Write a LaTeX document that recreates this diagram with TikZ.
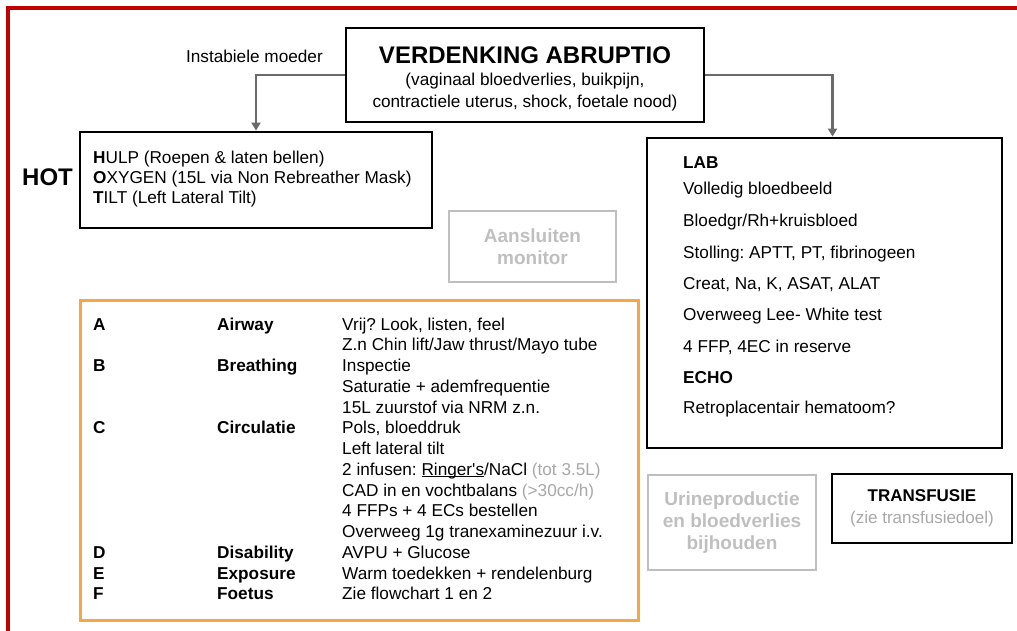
\documentclass[tikz,border=0pt]{standalone}
\usepackage{fontspec}
\setmainfont{Liberation Sans}
\usetikzlibrary{arrows.meta}
\frenchspacing

\definecolor{framered}{HTML}{C00000}
\definecolor{linkgray}{HTML}{6A6A6A}
\definecolor{palegray}{HTML}{BFBFBF}
\definecolor{notegray}{HTML}{A8A8A8}
\definecolor{abcorange}{HTML}{F7A545}

\newcommand{\sizepx}[1]{\fontsize{#1}{#1}\selectfont}
\newcommand{\lineunder}[1]{\setbox0\hbox{#1}\rlap{\rule[-2.2pt]{\wd0}{1.3pt}}\box0}

\tikzset{
  blackbox/.style={draw=black, line width=2.8pt, inner sep=0pt},
  palebox/.style={draw=palegray, line width=2.4pt, text=palegray, align=center,
    font=\bfseries\fontsize{19}{22}\selectfont},
  txt/.style={inner sep=0pt, anchor=base west, font=\sizepx{17.2}},
  link/.style={draw=linkgray, line width=2.2pt, -{Triangle[length=8pt,width=9pt]}},
}

\begin{document}
\begin{tikzpicture}[x=1pt, y=-1pt]
  \def \bs {6} % baseline below line centre
  \def \abcrow {20.75}
  \useasboundingbox (0,0) rectangle (1017,631);

  % red frame
  \draw[framered, line width=4.5pt] (1017,8) -- (8,8) -- (8,631);

  % suspicion box
  \node[blackbox, minimum width=358pt, minimum height=94pt] (abruptio) at (525,75) {};
  \node[inner sep=0pt, anchor=base, font=\bfseries\sizepx{24}] (title) at (525,{55+8.5}) {VERDENKING ABRUPTIO};
  \node[txt, anchor=base] (cause1) at (525,{80+\bs}) {(vaginaal bloedverlies, buikpijn,};
  \node[txt, anchor=base] (cause2) at (525,{102+\bs}) {contractiele uterus, shock, foetale nood)};
  \node[txt, anchor=base east] (instabiel) at (323,{57+\bs}) {Instabiele moeder};

  % HOT
  \node[blackbox, minimum width=352pt, minimum height=96pt] (hot) at (256,180) {};
  \node[inner sep=0pt, anchor=base west, font=\bfseries\sizepx{24}] (hotlabel) at (22,{177+8.5}) {HOT};
  \foreach \w/\t [count=\i from 0] in {H/{ULP (Roepen \& laten bellen)}, O/{XYGEN (15L via Non Rebreather Mask)}, T/{ILT (Left Lateral Tilt)}}
    \node[txt] (hot-\i) at (93,{158+\i*20+\bs}) {\textbf{\w}\t};

  \node[palebox, minimum width=167pt, minimum height=71pt] (monitor) at (532.5,246.5) {Aansluiten\\monitor};

  % LAB / ECHO
  \node[blackbox, minimum width=355pt, minimum height=310pt] (lab) at (824.5,293) {};
  \foreach \y/\t [count=\i from 0] in {163/\textbf{LAB}, 189/Volledig bloedbeeld, 220.5/{Bloedgr/Rh+kruisbloed}, 252/{Stolling: APTT, PT, fibrinogeen}, 283/{Creat, Na, K, ASAT, ALAT}, 314.5/Overweeg Lee- White test, 346/{4 FFP, 4EC in reserve}, 377/\textbf{ECHO}, 407/Retroplacentair hematoom?}
    \node[txt] (lab-\i) at (683,{\y+\bs}) {\t};

  % ABCDE
  \node[draw=abcorange, line width=3pt, inner sep=0pt, minimum width=558pt, minimum height=320pt] (abcde) at (359,460) {};
  \foreach \r/\l/\n in {0/A/Airway, 2/B/Breathing, 5/C/Circulatie, 11/D/Disability, 12/E/Exposure, 13/F/Foetus}{
    \node[txt, font=\bfseries\sizepx{17.2}] (step-\l) at (93,{324+\r*\abcrow+\bs}) {\l};
    \node[txt, font=\bfseries\sizepx{17.2}] (name-\l) at (217,{324+\r*\abcrow+\bs}) {\n};
  }
  \foreach \t [count=\i from 0] in {{Vrij? Look, listen, feel}, Z.n Chin lift/Jaw thrust/Mayo tube, Inspectie, Saturatie + ademfrequentie, 15L zuurstof via NRM z.n., {Pols, bloeddruk}, Left lateral tilt, {2 infusen: \lineunder{Ringer\textquotesingle s}/NaCl \textcolor{notegray}{(tot 3.5L)}}, CAD in en vochtbalans \textcolor{notegray}{(>30cc/h)}, 4 FFPs + 4 ECs bestellen, Overweeg 1g tranexaminezuur i.v., AVPU + Glucose, Warm toedekken + rendelenburg, Zie flowchart 1 en 2}
    \node[txt] (todo-\i) at (342,{324+\i*\abcrow+\bs}) {\t};

  \node[palebox, minimum width=168pt, minimum height=95pt] (urine) at (732,522.5) {Urineproductie\\en bloedverlies\\bijhouden};
  \node[blackbox, minimum width=180pt, minimum height=69pt, align=center, font=\fontsize{17}{22}\selectfont] (transfusie) at (922,508.5) {{\bfseries TRANSFUSIE}\\{\color{notegray}(zie transfusiedoel)}};

  % connectors
  \draw[link] (abruptio.west) -| (hot.north);
  \draw[link] (abruptio.east) -| ([xshift=8pt]lab.north);
\end{tikzpicture}
\end{document}
